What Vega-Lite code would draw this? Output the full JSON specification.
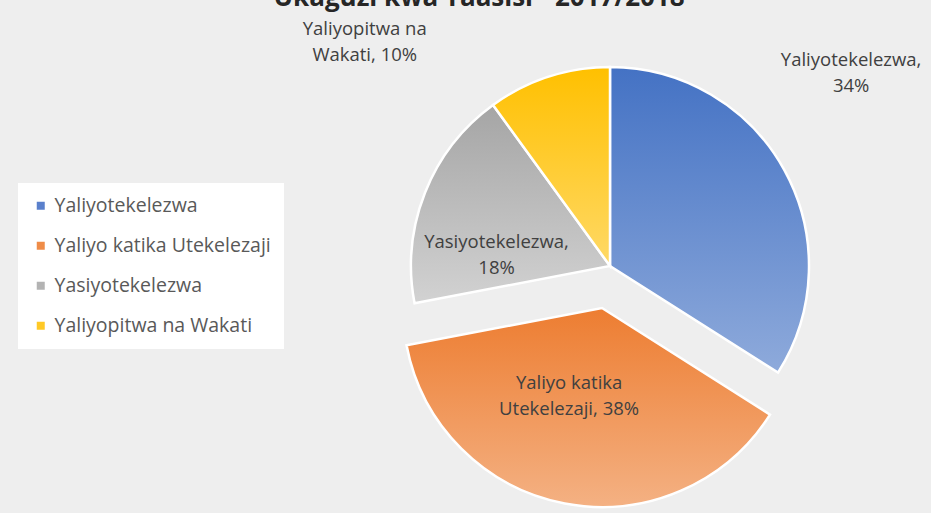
{
  "$schema": "https://vega.github.io/schema/vega-lite/v6.json",
  "width": 400,
  "height": 400,
  "autosize": {"type": "none"},
  "padding": {"left": 410, "top": 66, "right": 121, "bottom": 47},
  "background": "#eeeeee",
  "view": {"stroke": null},
  "title": {
    "text": "Ukaguzi kwa Taasisi - 2017/2018",
    "anchor": "middle",
    "dx": -131,
    "dy": 25,
    "offset": 13,
    "baseline": "alphabetic",
    "font": "Open Sans",
    "fontSize": 26,
    "fontWeight": "bold",
    "color": "#262626"
  },
  "data": {
    "values": [
      {"cat": "Yaliyotekelezwa", "value": 34, "ord": 1, "lbl": "Yaliyotekelezwa,\n34%"},
      {"cat": "Yaliyo katika Utekelezaji", "value": 38, "ord": 2, "lbl": "Yaliyo katika\nUtekelezaji, 38%"},
      {"cat": "Yasiyotekelezwa", "value": 18, "ord": 3, "lbl": "Yasiyotekelezwa,\n18%"},
      {"cat": "Yaliyopitwa na Wakati", "value": 10, "ord": 4, "lbl": "Yaliyopitwa na\nWakati, 10%"}
    ]
  },
  "transform": [
    {"stack": "value", "groupby": [], "sort": [{"field": "ord", "order": "ascending"}], "as": ["v0", "v1"]},
    {"calculate": "(datum.v0 + datum.v1) / 2", "as": "mid"}
  ],
  "layer": [
    {
      "transform": [{"filter": "datum.cat !== 'Yaliyo katika Utekelezaji'"}],
      "mark": {"type": "arc", "radius": 199, "stroke": "white", "strokeWidth": 2.5},
      "encoding": {
        "theta": {"field": "v0", "type": "quantitative", "stack": null, "scale": {"domain": [0, 100]}},
        "theta2": {"field": "v1"},
        "fill": {
          "field": "cat",
          "type": "nominal",
          "scale": {
            "domain": ["Yaliyotekelezwa", "Yaliyo katika Utekelezaji", "Yasiyotekelezwa", "Yaliyopitwa na Wakati"],
            "range": ["#5a80cc", "#ef8c48", "#b3b3b3", "#ffc926"]
          },
          "legend": {
            "orient": "none",
            "direction": "vertical",
            "legendX": -392,
            "legendY": 117,
            "title": null,
            "symbolType": "square",
            "symbolSize": 64,
            "symbolStrokeWidth": 0,
            "labelFont": "Open Sans",
            "labelFontSize": 19.5,
            "labelColor": "#595959",
            "labelOffset": 4,
            "labelLimit": 400,
            "rowPadding": 19,
            "padding": 13,
            "fillColor": "white"
          },
          "condition": [
            {"test": "datum.cat === 'Yaliyotekelezwa'", "value": {"gradient": "linear", "x1": 0, "y1": 0, "x2": 0, "y2": 1, "stops": [{"offset": 0, "color": "#4472c4"}, {"offset": 1, "color": "#8eaadb"}]}},
            {"test": "datum.cat === 'Yasiyotekelezwa'", "value": {"gradient": "linear", "x1": 0, "y1": 0, "x2": 0, "y2": 1, "stops": [{"offset": 0, "color": "#a5a5a5"}, {"offset": 1, "color": "#d2d2d2"}]}},
            {"test": "datum.cat === 'Yaliyopitwa na Wakati'", "value": {"gradient": "linear", "x1": 0, "y1": 0, "x2": 0, "y2": 1, "stops": [{"offset": 0, "color": "#ffc000"}, {"offset": 1, "color": "#ffd966"}]}}
          ]
        }
      }
    },
    {
      "transform": [{"filter": "datum.cat === 'Yaliyo katika Utekelezaji'"}],
      "mark": {"type": "arc", "radius": 199, "stroke": "white", "strokeWidth": 2.5, "xOffset": -8, "yOffset": 42,
        "fill": {"gradient": "linear", "x1": 0, "y1": 0, "x2": 0, "y2": 1, "stops": [{"offset": 0, "color": "#ed7d31"}, {"offset": 1, "color": "#f4b183"}]}},
      "encoding": {
        "theta": {"field": "v0", "type": "quantitative", "stack": null},
        "theta2": {"field": "v1"}
      }
    },
    {
      "transform": [{"filter": "datum.cat === 'Yaliyotekelezwa'"}],
      "mark": {"type": "text", "radius": 309, "thetaOffset": -0.173, "dy": -13, "font": "Open Sans", "fontSize": 18.5, "color": "#404040", "lineBreak": "\n", "lineHeight": 26, "align": "center", "baseline": "middle"},
      "encoding": {"theta": {"field": "mid", "type": "quantitative", "stack": null}, "text": {"field": "lbl"}}
    },
    {
      "transform": [{"filter": "datum.cat === 'Yaliyopitwa na Wakati'"}],
      "mark": {"type": "text", "radius": 332, "thetaOffset": -0.517, "dy": -13, "font": "Open Sans", "fontSize": 18.5, "color": "#404040", "lineBreak": "\n", "lineHeight": 26, "align": "center", "baseline": "middle"},
      "encoding": {"theta": {"field": "mid", "type": "quantitative", "stack": null}, "text": {"field": "lbl"}}
    },
    {
      "transform": [{"filter": "datum.cat === 'Yasiyotekelezwa'"}],
      "mark": {"type": "text", "radius": 114, "thetaOffset": -0.281, "dy": -13, "font": "Open Sans", "fontSize": 18.5, "color": "#404040", "lineBreak": "\n", "lineHeight": 26, "align": "center", "baseline": "middle"},
      "encoding": {"theta": {"field": "mid", "type": "quantitative", "stack": null}, "text": {"field": "lbl"}}
    },
    {
      "transform": [{"filter": "datum.cat === 'Yaliyo katika Utekelezaji'"}],
      "mark": {"type": "text", "radius": 136, "thetaOffset": 0.117, "dy": -13, "font": "Open Sans", "fontSize": 18.5, "color": "#404040", "lineBreak": "\n", "lineHeight": 26, "align": "center", "baseline": "middle"},
      "encoding": {"theta": {"field": "mid", "type": "quantitative", "stack": null}, "text": {"field": "lbl"}}
    }
  ]
}
